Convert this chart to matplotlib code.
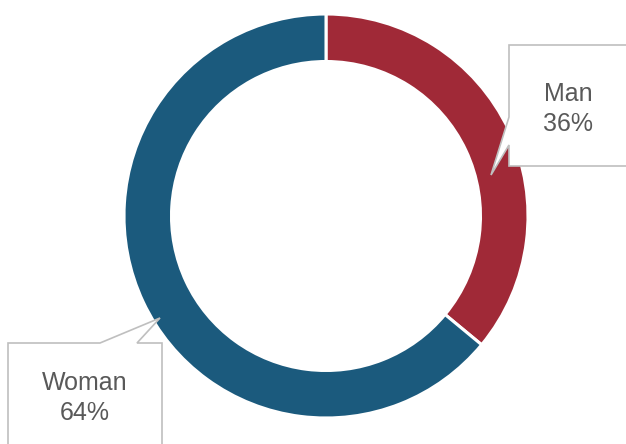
import matplotlib
matplotlib.use("Agg")
import matplotlib.pyplot as plt
from matplotlib.patches import Polygon

LABELS = ["Man", "Woman"]
SHARES = [36, 64]
COLORS = ["#A02937", "#1B5A7D"]

W, H = 626, 444
fig = plt.figure(figsize=(W / 100, H / 100), dpi=100)
ax = fig.add_axes([0, 0, 1, 1])

# pixel-space coordinates, y measured from the top
def py(y):
    return H - y

ax.pie(SHARES, colors=COLORS, startangle=90, counterclock=False,
       center=(326, py(216)), radius=202,
       wedgeprops=dict(width=47.5, edgecolor="white", linewidth=2.2))

# callout boxes
man_box = [(509, 45), (660, 45), (660, 166), (509, 166), (509, 145), (491, 175), (509, 117)]
woman_box = [(8, 343), (100, 343), (160, 318), (137, 343), (162, 343), (162, 470), (8, 470)]
for pts in (man_box, woman_box):
    ax.add_patch(Polygon([(x, py(y)) for x, y in pts], closed=True, facecolor="white",
                         edgecolor="#BFBFBF", linewidth=1.2, zorder=5))

txt = dict(ha="center", va="center", color="#595959", fontsize=18,
           family="Liberation Sans", linespacing=1.35, zorder=6)
ax.text(568, py(109), f"{LABELS[0]}\n{SHARES[0]}%", **txt)
ax.text(85, py(398), f"{LABELS[1]}\n{SHARES[1]}%", **txt)

ax.set_xlim(0, W)
ax.set_ylim(0, H)
ax.set_aspect("auto")
ax.axis("off")
fig.savefig("out.png", dpi=100)
